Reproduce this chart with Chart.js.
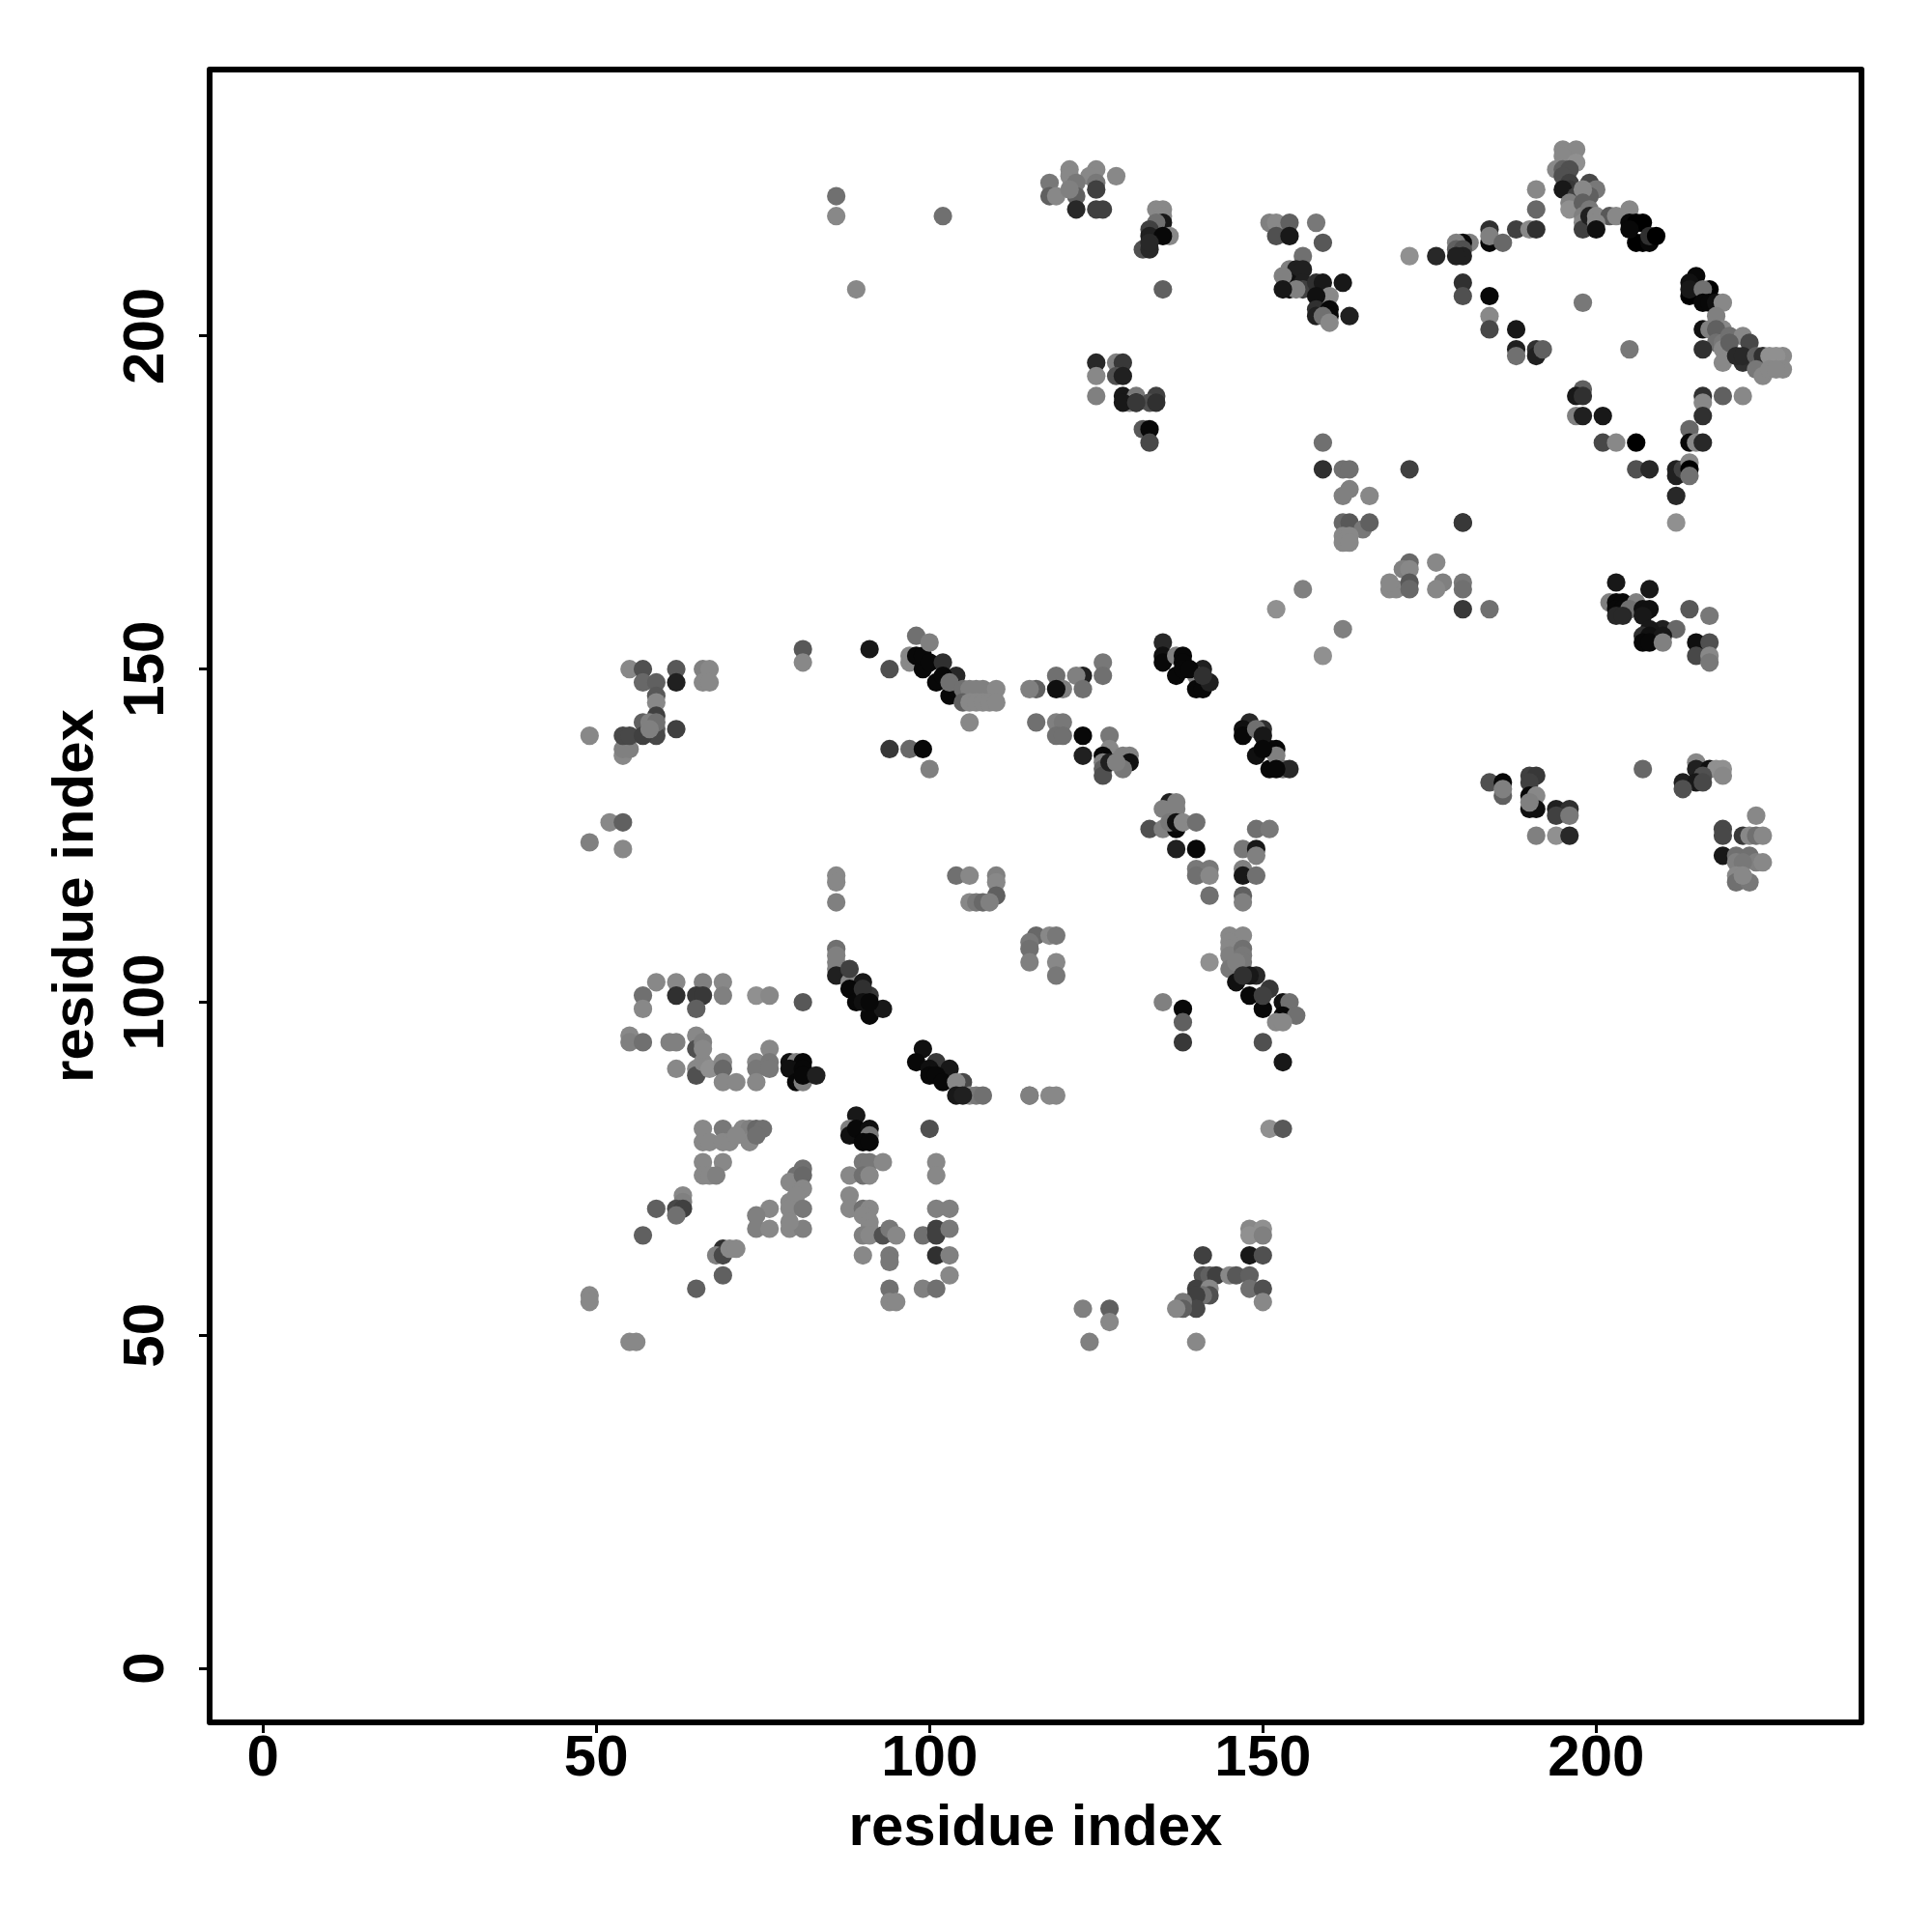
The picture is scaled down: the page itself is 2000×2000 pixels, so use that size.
<!DOCTYPE html>
<html>
<head>
<meta charset="utf-8">
<script src="https://cdn.jsdelivr.net/npm/chart.js@4/dist/chart.umd.min.js"></script>
<style>
body { margin: 0; background: #fff; }
canvas { display: block; }
</style>
</head>
<body>
<canvas id="contactChart" width="2000" height="2000"></canvas>
<script>
// one entry per contact, each line of the three arrays is the same cluster
const residueA = [
  55,57,57,59,59,59,59,59,59,62,62,62,66,67,66,67,54,54,55,54,55,57,58,59,57,58,49,52,54,49,54,
  81,81,91,94,97,97,98,99,101,103,99,100,102,104,102,104,98,100,103,
  105,106,107,108,110,105,106,107,108,109,110,106,94,97,99,100,
  86,86,86,104,106,110,110,110,106,107,108,109,
  86,86,86,86,86,88,88,90,88,89,91,90,91,93,90,91,
  59,62,66,69,57,62,65,66,69,74,76,81,57,65,
  55,55,57,61,62,65,65,66,
  62,65,66,65,66,67,69,69,69,71,74,74,74,76,76,76,66,
  79,80,81,79,81,80,81,81,83,
  99,98,101,100,100,103,101,102,105,104,104,106,107,108,105,115,
  66,69,72,73,74,75,66,67,69,70,73,71,74,
  89,88,88,89,91,91,90,91,100,
  66,69,66,67,68,81,80,79,81,81,79,80,79,81,79,81,79,76,74,74,76,
  63,63,62,63,62,59,57,69,68,69,70,71,69,65,49,49,55,56,
  90,91,93,88,90,91,88,88,90,91,90,91,91,90,91,93,94,95,90,94,94,94,94,95,
  99,101,101,103,101,103,101,101,101,103,103,99,101,
  126,126,123,122,119,123,120,119,116,115,
  116,119,120,119,120,123,123,127,127,126,126,126,126,127,130,129,130,129,128,
  135,135,135,137,138,138,137,141,140,140,141,142,138,139,141,
  148,147,147,150,149,149,152,151,151,152,153,154,150,150,152,
  136,137,135,137,133,135,137,136,137,138,140,137,140,140,142,140,142,142,
  149,151,147,149,149,147,147,149,147,147,
  116,115,115,115,118,119,119,119,
  145,147,145,145,145,145,147,147,147,142,146,
  149,148,151,146,148,150,153,154,153,155,152,153,147,150,135,138,138,138,150,153,
  115,118,119,151,153,
  148,150,148,150,141,148,150,141,142,143,145,146,148,140,142,148,150,150,142,141,140,140,138,138,137,
  123,127,127,124,140,
  86,86,102,89,121,125,118,121,124,128,125,118,119,122,122,125,121,122,125,126,
  134,135,135,135,136,134,133,133,135,132,133,133,135,
  151,152,154,158,152,154,159,156,154,155,156,154,154,156,156,155,158,159,162,160,158,158,160,160,163,158,159,160,153,153,
  125,128,129,125,128,129,125,129,131,134,130,131,133,134,129,131,132,133,133,
  159,159,162,163,172,163,162,166,162,163,165,166,162,163,162,163,180,
  172,171,172,176,169,170,172,172,169,177,176,180,180,180,184,156,152,162,159,
  203,208,202,203,204,206,203,204,205,207,208,203,204,207,210,212,208,207,208,210,207,208,210,214,217,215,217,215,217,217,
  184,186,186,186,190,191,190,190,191,190,191,190,194,196,194,196,191,194,196,
  207,215,215,217,218,219,219,213,216,215,216,213,
  224,219,219,222,223,224,225,219,221,223,224,225,221,222,221,221,223,222,
  195,197,195,197,194,195,196,195,196,196,195,197,199,200,199,198,196,196,198,198,198,198,199,199,200,202,200,200,203,205,205,206,207,206,207,208,208,209,205,
  191,191,188,190,191,184,184,184,186,181,180,179,179,180,180,179,180,180,184,184,184,188,188,188,191,191,192,198,205,176,172,
  215,214,214,214,217,216,216,217,218,219,218,219,216,217,218,218,219,219,216,219,220,222,223,220,222,221,222,224,225,226,228,227,224,225,226,228,227,
  198,197,198,197,198,201,216,216,219,222,216,214,214,215,216,201,203,206,206,208,212,212,213,214,214,214,212,212,180
];
const residueB = [
  150,150,148,148,146,145,143,141,140,150,148,141,150,150,148,148,137,138,138,140,140,142,142,142,140,141,140,127,127,124,123,
  153,151,153,150,152,151,152,150,148,146,152,151,151,149,149,147,155,154,148,
  147,147,147,147,147,145,145,145,145,145,145,142,138,138,138,135,
  119,118,115,119,119,119,118,116,115,115,115,115,
  108,107,106,105,104,103,105,103,102,100,101,102,98,99,100,100,
  103,103,103,103,101,101,101,101,101,101,101,100,99,99,
  95,94,94,94,94,95,93,94,
  90,90,90,89,91,90,91,90,88,88,91,90,88,93,91,90,93,
  91,91,91,90,90,88,88,89,89,
  93,91,91,90,89,90,89,88,88,88,86,86,86,86,86,86,
  81,81,81,81,81,81,79,79,79,79,79,80,80,
  83,81,80,81,81,80,79,79,81,
  76,76,74,74,74,75,74,73,74,72,70,71,69,69,66,66,67,69,68,66,66,
  71,70,69,69,68,69,65,63,62,62,63,63,59,57,56,55,49,49,
  76,76,76,74,74,74,71,69,69,69,68,67,66,65,65,65,66,65,62,62,61,57,55,55,
  65,66,65,66,69,69,76,74,62,62,59,57,57,
  151,149,149,149,149,147,147,147,147,147,
  142,142,142,140,140,140,137,140,138,137,136,135,134,136,137,137,136,135,136,
  154,152,151,152,152,151,149,150,149,147,147,148,150,150,149,
  142,141,140,141,141,137,138,138,135,137,135,135,140,138,135,
  130,130,129,129,126,126,126,127,127,127,127,123,123,120,120,119,119,116,
  126,126,123,123,122,120,119,119,116,115,
  110,109,108,106,110,110,106,104,
  110,110,109,108,107,105,108,107,106,106,106,
  104,104,102,103,101,99,100,100,98,98,97,97,104,101,100,99,97,94,94,91,
  86,86,86,81,81,
  66,66,65,65,62,62,62,59,59,59,59,59,59,57,57,57,57,55,56,56,56,54,55,54,54,
  54,54,52,49,49,
  221,218,218,207,225,225,223,224,224,224,223,221,221,223,221,222,222,219,219,219,
  219,219,218,217,215,217,216,215,215,213,213,214,207,
  217,217,217,217,215,215,214,212,210,210,210,208,207,208,207,207,208,208,208,206,206,204,204,203,203,203,203,202,209,207,
  196,196,196,194,194,194,191,191,191,191,190,190,190,190,190,190,186,186,184,
  184,180,180,180,180,177,176,176,172,172,171,172,170,170,169,169,172,
  166,165,165,166,162,162,163,162,163,163,162,163,162,159,159,162,159,156,152,
  163,162,160,160,160,160,159,159,159,159,159,158,158,158,156,156,156,155,155,155,154,154,154,159,158,154,154,152,152,151,
  133,133,131,132,134,134,133,131,131,129,129,130,129,129,128,128,125,125,125,
  135,136,135,135,135,135,134,133,134,133,133,132,
  128,126,125,125,125,125,125,122,122,122,121,121,121,121,119,118,118,119,
  228,228,227,226,225,225,225,224,223,222,222,221,223,222,221,222,220,219,220,218,217,216,219,218,218,218,217,216,218,219,217,217,217,214,214,214,215,215,216,
  222,219,216,216,216,216,214,215,214,214,214,214,213,213,212,212,208,206,206,203,201,201,198,197,198,197,198,205,198,212,212,
  209,208,206,207,207,207,205,205,205,205,203,201,201,201,201,199,199,198,198,196,200,200,199,199,196,197,197,197,197,197,197,197,195,194,195,195,195,
  192,191,191,188,188,188,191,190,191,191,188,186,184,184,184,184,184,184,180,180,180,179,180,181,180,179,176,172,172
];
// grey level of the dot, 0 = black, 9 = lightest
const level = [
  8.5,5,6.5,6,5.5,8.5,4,6,4.5,5.5,2,4,8,8.5,8.5,8.5,8.5,8,8,4.5,4.5,6,8,7,4,8,8.5,8.5,6,8,8.5,
  5.5,8.5,1.5,5,8.5,8.5,0.5,0.5,0.5,0.5,0.5,0.5,3,2.5,0.5,0.5,7,8,7,
  7,8,8,8,8.5,6,8.5,8.5,8.5,8.5,8.5,8.5,3.5,6.5,0.5,8,
  8.5,8.5,8,7,8.5,8,8.5,6,8.5,7.5,6.5,8,
  7,8,8,8,2,8.5,4,1.5,0.5,0.5,3.5,3,0.5,1.5,1,0.5,
  8.5,8.5,8,8.5,7,3,3.5,3.5,8,9,8.5,5.5,8.5,6,
  8.5,8,7,8,8,8.5,5,8,
  8.5,8.5,8.5,5,8.5,9,8.5,6.5,8.5,8.5,8.5,7.5,8.5,8.5,7.5,7.5,8.5,
  1,8,0.5,1,0.5,0.5,8,0.5,2,
  1,0.5,3.5,1,0.5,1.5,0.5,0.5,4.5,8.5,1.5,8.5,7.5,7,2,8,
  8.5,7.5,8.5,8,6.5,7,8.5,8.5,8.5,8.5,8.5,8.5,7,
  1.5,8,1,0.5,1,7.5,0.5,0.5,5,
  8.5,8.5,8.5,8.5,8,7,7,8.5,6.5,8.5,8.5,8.5,8.5,7.5,8.5,8,8.5,8.5,8,8,8.5,
  8.5,8,4.5,4,7,6,6,3,8,4.5,8.5,8.5,6,6,8.5,8.5,8.5,8.5,
  7.5,7.5,8.5,8.5,7,8.5,8.5,8.5,7,8.5,8.5,8.5,8.5,8,8.5,5,7.5,8.5,8.5,7.5,7.5,7,8.5,8.5,
  7,4,4,7.5,8,8,8.5,8.5,3,8,8.5,8,7,
  7.5,7,2,8,7,7,8,1,6,8,
  7,8,7.5,7,7,0.5,2,7.5,8.5,0.5,8,6,5,2,8,8,1,7.5,8,
  2.5,1,0.5,8,0.5,0.5,0.5,2,8,0.5,0.5,2,0.5,0.5,3,
  2.5,1,0.5,3,7,1,0.5,0.5,0.5,8,7,2.5,1.5,0.5,0.5,
  2,8,8,8,5,8,0.5,7.5,1,8.5,7,2,0.5,7.5,7.5,7,8.5,7,
  7,7.5,7.5,1.5,8,8,1.5,7,6,8,
  6.5,7.5,7,8,8.5,7.5,8.5,7.5,
  8.5,8.5,8.5,8.5,8,7.5,7,7.5,7.5,9,8,
  2.5,1.5,3.5,1,0.5,0.5,1,7,0.5,7,8.5,8.5,3,4,8,0.5,6,3.5,5,1.5,
  8,8.5,8.5,9,5.5,
  8.5,9,9,8,4,1.5,5,5,6,4,8.5,5.5,6,4,8.5,7,5,8.5,5,7,4,4.5,7.5,6,8.5,
  8,6,8.5,8,8.5,
  7,8.5,7,8.5,8.5,8.5,7.5,8.5,8.5,8.5,7.5,6,8.5,7.5,6,4,8,2.5,4,4,
  8.5,8.5,8.5,1.5,8.5,7,4,2,0.5,5,2.5,2.5,6,
  8,8.5,6,7.5,5,1.5,5.5,7,8,2,2,1,1,2,4,8,3,1.5,1.5,8.5,1,3,0.5,0.5,2,2,7,8.5,8,1.5,
  2.5,8,3.5,8.5,5,2,8,1.5,7.5,4,8,0.5,5,3,1.5,3.5,5.5,0.5,4.5,
  7,3,7,7,4,8,8,8.5,6.5,5.5,7.5,6,8.5,8.5,8.5,8.5,3.5,
  6.5,8,8.5,8.5,8.5,8.5,5.5,6.5,8.5,8,8.5,7.5,7,3.5,7,8,9,8,9,
  1.5,1.5,8,0.5,0.5,8,0.5,0.5,7,1,1,2.5,2.5,1.5,2,6.5,1.5,3,1,1.5,0.5,0.5,8,5.5,7.5,1,5,4.5,8.5,7.5,
  5,0.5,6,8,4,3.5,4,0.5,8.5,1,1,8,2,3,4,7.5,8,9,2.5,
  6.5,8.5,2,1,9,9,8.5,2,5,1.5,4.5,5,
  8.5,4.5,4.5,3.5,8.5,7,8.5,1.5,7,7,8,8.5,8,7.5,8.5,7,7.5,8.5,
  8.5,8.5,8.5,9,8.5,6,5,5,4,3.5,1.5,4,4.5,7.5,6,8.5,8,9,6,8,8.5,4,7.5,2,8.5,5.5,8.5,1,8.5,8.5,0.5,0,0,0,0,0.5,3,0,0.5,
  8.5,6.5,4,8.5,3,3,0.5,8,6.5,8,0.5,8,6,5,2,2,3,5,0.5,8.5,4.5,1.5,2,7,3,2,6,7.5,7.5,2.5,9,
  0.5,1,0,1.5,0,7,0.5,0.5,1,8.5,8,8.5,1,8,6,7,7.5,8.5,3,8.5,7,8.5,4.5,6,3,2.5,2.5,6,3,9,8.5,9,7.5,8.5,8.5,8.5,8.5,
  6,1.5,3,8,2,1.5,3,8.5,6,8.5,3,6.5,0.5,8.5,2.5,4.5,8.5,0,5,2.5,2,2,4,8.5,0,7,2.5,9,3.5
];
const xTicks = [0, 50, 100, 150, 200];
const yTicks = [0, 50, 100, 150, 200];
const axisLabel = 'residue index';

const labelFont = 'bold 60px "Liberation Sans", sans-serif';

// R style box and the rotated y tick labels, chart.js cant center those itself
const boxPlugin = {
    id: 'box',
    afterDraw(chart) {
        const { ctx, chartArea: a, scales } = chart;
        ctx.save();
        ctx.strokeStyle = '#000';
        ctx.lineWidth = 6;
        ctx.lineJoin = 'round';
        ctx.strokeRect(a.left, a.top, a.right - a.left, a.bottom - a.top);
        ctx.fillStyle = '#000';
        ctx.font = labelFont;
        ctx.textAlign = 'center';
        ctx.textBaseline = 'middle';
        yTicks.forEach(t => {
            ctx.save();
            ctx.translate(150, scales.y.getPixelForValue(t));
            ctx.rotate(-Math.PI / 2);
            ctx.fillText(String(t), 0, 2);
            ctx.restore();
        });
        ctx.restore();
    }
};

function tickGrid() {
    return { drawOnChartArea: false, drawTicks: true, tickLength: 11, tickWidth: 3, tickColor: '#000' };
}

new Chart(document.getElementById('contactChart').getContext('2d'), {
    type: 'scatter',
    data: {
        datasets: [{
            data: residueA.map((a, i) => ({ x: a, y: residueB[i] })),
            backgroundColor: level.map(l => { const g = Math.round(l * 16); return `rgb(${g},${g},${g})`; }),
            borderWidth: 0,
            pointRadius: 9.6,
            pointHoverRadius: 9.6
        }]
    },
    plugins: [boxPlugin],
    options: {
        responsive: false,
        animation: false,
        layout: { padding: { top: 72, right: 73, left: 0, bottom: 0 } },
        plugins: { legend: { display: false }, tooltip: { enabled: false } },
        scales: {
            x: {
                type: 'linear',
                min: -8,
                max: 239.8,
                afterBuildTicks: s => { s.ticks = xTicks.map(v => ({ value: v })); },
                afterFit: s => { s.height = 217; },
                grid: tickGrid(),
                border: { display: false },
                ticks: {
                    color: '#000',
                    font: { family: '"Liberation Sans", sans-serif', size: 60, weight: 'bold' },
                    maxRotation: 0,
                    padding: -9
                },
                title: {
                    display: true,
                    text: axisLabel,
                    color: '#000',
                    font: { family: '"Liberation Sans", sans-serif', size: 60, weight: 'bold' },
                    padding: { top: 0, bottom: 71 }
                }
            },
            y: {
                type: 'linear',
                min: -8.1,
                max: 240,
                afterBuildTicks: s => { s.ticks = yTicks.map(v => ({ value: v })); },
                afterFit: s => { s.width = 217; },
                grid: tickGrid(),
                border: { display: false },
                ticks: { display: false },
                title: {
                    display: true,
                    text: axisLabel,
                    color: '#000',
                    font: { family: '"Liberation Sans", sans-serif', size: 60, weight: 'bold' },
                    padding: { top: 43, bottom: 43 }
                }
            }
        }
    }
});
</script>
</body>
</html>
